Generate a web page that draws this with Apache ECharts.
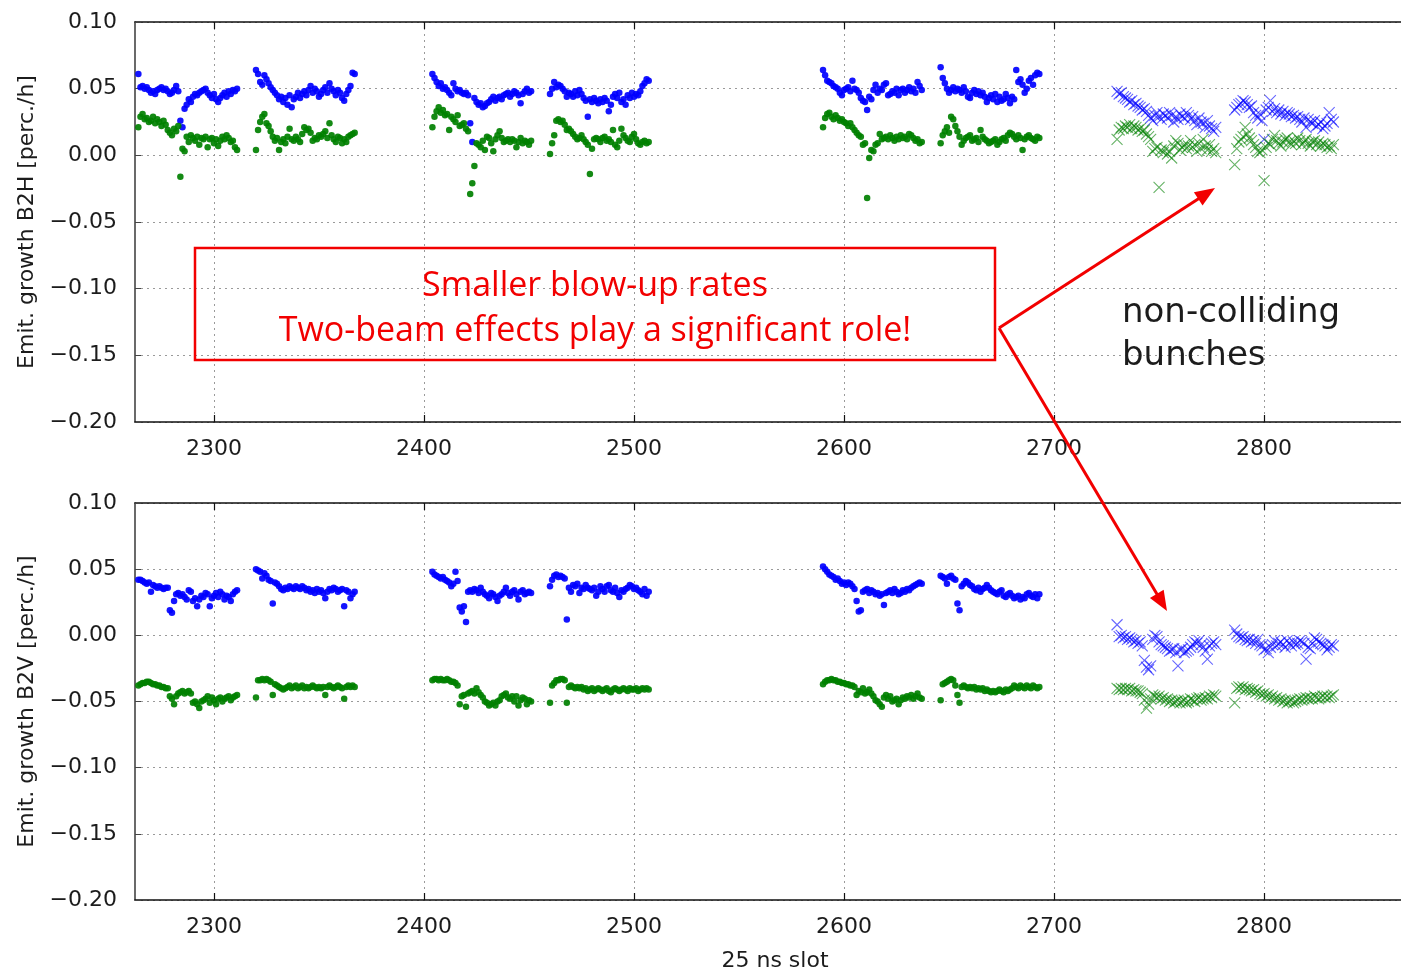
<!DOCTYPE html>
<html>
<head>
<meta charset="utf-8">
<script src="https://cdn.jsdelivr.net/npm/echarts@6/dist/echarts.min.js"></script>
<style>
  html, body { margin: 0; padding: 0; background: #ffffff; }
  #chart { width: 1401px; height: 973px; }
</style>
</head>
<body>
<div id="chart"></div>
<script>
// Tick positions
const slotTicks = [2300, 2400, 2500, 2600, 2700, 2800];

// First 25 ns slot of each 48-bunch train
const collidingTrainStart = [2264, 2320, 2404, 2460, 2590, 2646];
const nonCollidingTrainStart = [2730, 2786];

// Emittance growth per bunch, in units of 0.001 perc./h
// B2H, colliding trains (blue / green)
const b2hBlue = [
  [61,51,52,50,51,49,47,48,46,49,50,51,49,50,48,46,47,49,52,48,26,21,35,38,42,40,44,46,45,47,48,49,50,47,45,43,46,42,40,43,45,47,44,48,46,49,48,50],
  [64,61,55,53,60,57,54,51,49,47,45,42,44,40,43,38,45,36,42,44,47,43,46,48,45,49,52,47,50,48,44,46,49,51,47,54,50,48,45,49,47,43,41,46,49,52,62,61],
  [61,58,55,52,54,50,51,49,47,45,54,50,48,49,47,46,47,45,24,10,43,40,38,39,36,37,39,40,42,44,41,43,44,42,45,46,47,44,46,48,47,45,39,46,48,50,47,48],
  [46,50,55,51,53,52,50,48,44,47,46,44,48,45,49,46,43,41,29,42,40,43,41,39,42,40,43,41,33,38,44,46,43,47,40,42,38,45,43,47,44,46,45,48,52,54,57,56],
  [64,60,56,55,54,52,51,50,47,45,49,50,51,48,56,50,49,47,43,41,40,34,44,42,49,53,47,50,49,53,54,45,46,48,47,50,45,49,50,47,49,51,48,50,47,55,52,49],
  [66,58,54,50,47,49,51,48,50,49,47,51,48,44,43,47,49,46,48,45,47,44,40,43,45,42,46,40,44,41,42,46,43,39,44,42,64,55,57,53,47,50,56,58,53,60,62,61]
];
const b2hGreen = [
  [21,29,31,27,28,25,26,29,24,27,25,22,26,23,19,17,15,20,18,22,-16,5,3,14,10,15,13,11,14,8,13,12,14,6,12,13,9,12,7,11,14,12,15,13,10,11,6,4],
  [4,19,25,29,31,24,22,18,14,11,13,4,10,12,9,14,20,12,11,14,12,10,16,21,19,20,17,11,13,12,15,14,16,18,13,24,15,12,10,14,13,9,12,10,14,15,16,17],
  [21,29,33,36,32,34,30,31,19,29,27,25,30,22,23,24,20,18,-29,-21,-8,9,8,6,11,4,14,13,9,3,12,15,18,13,10,11,12,10,12,11,6,10,13,9,11,10,8,11],
  [1,9,15,26,27,25,26,23,19,20,18,16,14,12,13,15,12,10,8,-14,5,12,13,12,10,13,14,11,12,10,19,8,6,11,20,15,13,11,10,14,16,12,9,8,10,11,9,10],
  [21,28,31,32,29,27,30,28,26,27,25,24,22,24,21,19,17,15,14,8,9,-32,-2,4,3,8,9,16,12,13,14,12,15,13,11,14,12,15,13,14,12,16,15,13,11,12,9,10],
  [9,15,18,21,17,29,27,22,18,14,8,11,13,14,15,11,12,13,10,19,14,12,11,9,10,11,12,8,10,12,13,11,15,17,16,14,12,15,13,4,12,14,15,13,12,11,14,13]
];
// B2H, non-colliding trains
const b2hBlueNC = [
  [48,46,47,44,43,42,40,41,38,39,37,36,34,35,33,30,28,26,30,32,29,27,31,30,28,32,30,25,29,27,31,29,28,32,30,27,29,26,23,28,25,24,21,26,22,20,18,21],
  [34,36,38,39,41,40,38,36,37,32,30,28,31,26,12,34,36,41,33,35,32,34,31,33,30,32,31,29,30,28,29,27,25,28,21,27,25,24,26,22,23,25,20,22,24,32,27,25]
];
const b2hGreenNC = [
  [12,19,21,20,22,21,23,20,22,21,19,20,18,19,16,14,12,3,5,6,-24,4,2,5,1,3,-2,7,11,9,4,6,8,5,7,11,6,8,3,9,5,12,7,4,8,3,5,2],
  [-7,5,10,12,14,21,16,13,11,8,6,3,2,4,-19,6,9,8,12,15,11,9,7,10,12,13,10,8,11,9,13,11,8,10,12,9,7,10,11,8,10,7,9,8,6,7,5,8]
];

// B2V, colliding trains
const b2vBlue = [
  [42,42,41,40,39,40,33,38,37,36,37,36,35,36,36,19,17,26,31,32,30,31,29,27,34,33,26,28,22,27,30,29,32,31,22,28,30,32,29,33,31,27,30,29,26,31,33,34],
  [50,49,48,43,47,45,42,41,24,40,39,37,35,34,36,35,37,36,35,37,36,35,37,36,34,35,33,34,32,35,33,34,32,28,33,35,34,36,35,33,34,35,22,34,33,28,31,33],
  [48,46,45,44,43,44,42,41,40,37,39,48,41,21,18,22,10,33,34,33,35,34,32,36,33,31,30,28,32,31,29,26,30,31,33,36,32,30,33,34,31,27,33,34,31,32,33,32],
  [37,42,45,46,44,45,44,43,12,36,33,38,37,39,32,36,35,38,36,35,34,36,30,33,37,35,33,37,38,34,33,36,32,29,34,33,35,36,38,37,35,36,34,33,31,35,30,33],
  [52,50,48,46,45,44,42,43,41,39,40,38,40,39,37,35,26,18,19,33,34,35,32,34,33,31,32,30,31,23,32,33,34,32,35,33,31,32,34,33,35,34,36,37,38,39,40,39],
  [45,44,43,39,44,45,43,42,24,19,37,39,41,40,38,37,35,34,36,33,35,36,38,36,34,33,32,31,33,34,30,29,31,32,30,28,29,30,27,29,28,31,32,30,29,31,28,31]
];
const b2vGreen = [
  [-38,-37,-36,-36,-35,-35,-36,-37,-37,-38,-38,-39,-39,-40,-40,-46,-48,-52,-46,-44,-43,-42,-44,-43,-42,-44,-51,-50,-52,-55,-50,-49,-48,-46,-51,-47,-49,-52,-48,-47,-50,-48,-47,-46,-49,-47,-46,-45],
  [-47,-34,-34,-33,-34,-33,-34,-35,-45,-37,-38,-39,-40,-41,-40,-39,-38,-40,-39,-38,-40,-39,-38,-40,-39,-40,-39,-38,-39,-40,-39,-40,-39,-45,-39,-38,-39,-40,-39,-38,-39,-40,-48,-39,-38,-39,-38,-39],
  [-34,-33,-33,-34,-33,-34,-34,-33,-34,-35,-35,-36,-38,-52,-46,-45,-54,-44,-43,-42,-44,-40,-43,-45,-47,-50,-51,-53,-52,-51,-53,-50,-49,-46,-45,-44,-47,-48,-46,-50,-46,-53,-49,-47,-48,-52,-49,-50],
  [-51,-38,-36,-34,-34,-33,-33,-34,-51,-39,-38,-39,-40,-39,-40,-39,-41,-40,-42,-41,-40,-42,-41,-40,-41,-42,-41,-40,-42,-43,-41,-40,-41,-42,-41,-40,-41,-42,-40,-41,-41,-40,-42,-41,-40,-41,-40,-41],
  [-37,-35,-34,-34,-33,-34,-34,-35,-35,-36,-36,-37,-37,-38,-38,-39,-45,-42,-43,-40,-44,-43,-41,-44,-46,-49,-50,-52,-54,-47,-45,-48,-46,-50,-49,-48,-52,-49,-47,-48,-46,-47,-45,-48,-46,-44,-47,-48],
  [-49,-37,-36,-35,-34,-33,-34,-38,-45,-51,-39,-38,-39,-40,-39,-40,-39,-41,-40,-41,-40,-42,-41,-42,-43,-42,-43,-42,-41,-42,-43,-41,-42,-41,-40,-38,-39,-40,-38,-39,-40,-38,-39,-40,-38,-39,-40,-39]
];
// B2V, non-colliding trains
const b2vBlueNC = [
  [8,-1,0,-2,-1,-3,-2,-3,-5,-4,-6,-5,-8,-19,-24,-26,-23,-3,0,-1,-5,-7,-8,-9,-10,-12,-11,-10,-13,-23,-11,-10,-13,-12,-11,-9,-7,-5,-6,-4,-7,-9,-12,-18,-8,-6,-5,-7],
  [4,1,-1,-2,-1,-3,-4,-3,-5,-4,-6,-3,-7,-8,-11,-10,-13,-9,-7,-4,-8,-6,-5,-7,-9,-4,-6,-8,-5,-7,-6,-4,-5,-6,-18,-9,-10,-6,-2,-3,-5,-6,-7,-8,-11,-9,-7,-8]
];
const b2vGreenNC = [
  [-40,-41,-40,-41,-40,-41,-40,-42,-41,-42,-42,-43,-44,-49,-55,-52,-48,-45,-46,-47,-46,-48,-47,-49,-48,-50,-49,-51,-50,-49,-51,-50,-49,-51,-50,-48,-49,-50,-48,-47,-49,-48,-47,-48,-46,-47,-45,-46],
  [-51,-40,-39,-40,-39,-41,-40,-41,-42,-41,-43,-42,-44,-45,-44,-46,-45,-47,-46,-48,-47,-49,-48,-50,-49,-51,-50,-49,-51,-50,-49,-48,-49,-48,-47,-48,-47,-48,-46,-47,-48,-47,-46,-47,-46,-47,-46,-45]
];

// [slot, value] pairs: bunch i of a train sits in slot start + i
function trainPoints(starts, trains) {
  const pts = [];
  trains.forEach((vals, k) => {
    vals.forEach((v, i) => pts.push([starts[k] + i, v / 1000]));
  });
  return pts;
}

const BLUE = '#0000ff';
const GREEN = '#008000';
const RED = '#f20000';
const TEXT = '#1c1c1c';
const FONT = 'DejaVu Sans';
const CROSS = 'path://M0 0L10 10M10 0L0 10';

const X_MIN = 2262.4, X_MAX = 2865.2;
const gridTops = [22, 503];
const yNames = ['Emit. growth B2H [perc./h]', 'Emit. growth B2V [perc./h]'];

function fmtY(v) {
  if (Math.abs(v) < 1e-9) return '0.00';
  return (v < 0 ? '\u2212' : '') + Math.abs(v).toFixed(2);
}

const gridLine = { show: true, lineStyle: { color: '#9a9a9a', width: 1, type: [2, 4] } };

const grids = gridTops.map(t => ({ left: 135, right: 0, top: t, height: 400, show: false }));

const xAxes = [];
const yAxes = [];
[0, 1].forEach(g => {
  xAxes.push({
    type: 'value', gridIndex: g, position: 'bottom', min: X_MIN, max: X_MAX,
    axisLine: { show: true, onZero: false, lineStyle: { color: '#111', width: 1.6 } },
    axisTick: { show: true, inside: true, length: 7, customValues: slotTicks, lineStyle: { color: '#111', width: 1.2 } },
    axisLabel: { customValues: slotTicks, formatter: v => String(Math.round(v)), fontFamily: FONT, fontSize: 22, color: TEXT, margin: 16 },
    splitLine: gridLine,
    name: g === 1 ? '25 ns slot' : '',
    nameLocation: 'middle', nameGap: 50,
    nameTextStyle: { fontFamily: FONT, fontSize: 22, color: TEXT, padding: [0, 0, 0, 14] }
  });
  xAxes.push({
    type: 'value', gridIndex: g, position: 'top', min: X_MIN, max: X_MAX,
    axisLine: { show: true, onZero: false, lineStyle: { color: '#111', width: 1.6 } },
    axisTick: { show: true, inside: true, length: 7, customValues: slotTicks, lineStyle: { color: '#111', width: 1.2 } },
    axisLabel: { show: false },
    splitLine: { show: false }
  });
  yAxes.push({
    type: 'value', gridIndex: g, min: -0.2, max: 0.1, interval: 0.05,
    axisLine: { show: true, onZero: false, lineStyle: { color: '#444', width: 1.6 } },
    axisTick: { show: true, inside: true, length: 6, lineStyle: { color: '#444' } },
    axisLabel: { formatter: fmtY, fontFamily: FONT, fontSize: 22, color: TEXT, margin: 18 },
    splitLine: gridLine,
    name: yNames[g], nameLocation: 'middle', nameGap: 94,
    nameTextStyle: { fontFamily: FONT, fontSize: 22, color: TEXT }
  });
});

function dots(g, data, color) {
  return {
    type: 'scatter', xAxisIndex: g * 2, yAxisIndex: g, data,
    symbol: 'circle', symbolSize: 6.5,
    itemStyle: { color, opacity: 0.92 }, silent: true
  };
}
function crosses(g, data, color) {
  return {
    type: 'scatter', xAxisIndex: g * 2, yAxisIndex: g, data,
    symbol: CROSS, symbolSize: 11,
    itemStyle: { color: 'none', borderColor: color, borderWidth: 1.1, opacity: 0.6 }, silent: true
  };
}

const series = [
  dots(0, trainPoints(collidingTrainStart, b2hBlue), BLUE),
  dots(0, trainPoints(collidingTrainStart, b2hGreen), GREEN),
  crosses(0, trainPoints(nonCollidingTrainStart, b2hBlueNC), BLUE),
  crosses(0, trainPoints(nonCollidingTrainStart, b2hGreenNC), GREEN),
  dots(1, trainPoints(collidingTrainStart, b2vBlue), BLUE),
  dots(1, trainPoints(collidingTrainStart, b2vGreen), GREEN),
  crosses(1, trainPoints(nonCollidingTrainStart, b2vBlueNC), BLUE),
  crosses(1, trainPoints(nonCollidingTrainStart, b2vGreenNC), GREEN)
];

// Arrow head triangle at (x2, y2) pointing along (x1,y1)->(x2,y2)
function arrowHead(x1, y1, x2, y2, len, half) {
  const dx = x2 - x1, dy = y2 - y1, d = Math.hypot(dx, dy);
  const ux = dx / d, uy = dy / d;
  const bx = x2 - ux * len, by = y2 - uy * len;
  return [[x2, y2], [bx - uy * half, by + ux * half], [bx + uy * half, by - ux * half]];
}
const arrowFrom = [999, 328];
const arrowTips = [[1215, 188], [1167, 611]];

const graphic = [
  { type: 'rect', shape: { x: 195, y: 248, width: 800, height: 112 },
    style: { fill: 'none', stroke: RED, lineWidth: 2.5 }, z: 100 },
  { type: 'text', x: 595, y: 286, z: 100,
    style: { text: 'Smaller blow-up rates', fill: RED, font: '34px "Open Sans"', align: 'center', verticalAlign: 'middle' } },
  { type: 'text', x: 595, y: 331, z: 100,
    style: { text: 'Two-beam effects play a significant role!', fill: RED, font: '34px "Open Sans"', align: 'center', verticalAlign: 'middle' } },
  { type: 'text', x: 1122, y: 313, z: 100,
    style: { text: 'non-colliding', fill: TEXT, font: '34px "DejaVu Sans"', align: 'left', verticalAlign: 'middle' } },
  { type: 'text', x: 1122, y: 356, z: 100,
    style: { text: 'bunches', fill: TEXT, font: '34px "DejaVu Sans"', align: 'left', verticalAlign: 'middle' } }
];
arrowTips.forEach(([tx, ty]) => {
  const head = arrowHead(arrowFrom[0], arrowFrom[1], tx, ty, 20, 8);
  const dx = tx - arrowFrom[0], dy = ty - arrowFrom[1], d = Math.hypot(dx, dy);
  graphic.push({ type: 'line', z: 100,
    shape: { x1: arrowFrom[0], y1: arrowFrom[1], x2: tx - dx / d * 16, y2: ty - dy / d * 16 },
    style: { stroke: RED, lineWidth: 3 } });
  graphic.push({ type: 'polygon', z: 100, shape: { points: head }, style: { fill: RED } });
});

const chart = echarts.init(document.getElementById('chart'), null, { renderer: 'canvas' });
chart.setOption({
  animation: false,
  backgroundColor: '#ffffff',
  grid: grids,
  xAxis: xAxes,
  yAxis: yAxes,
  series,
  graphic
});
</script>
</body>
</html>
